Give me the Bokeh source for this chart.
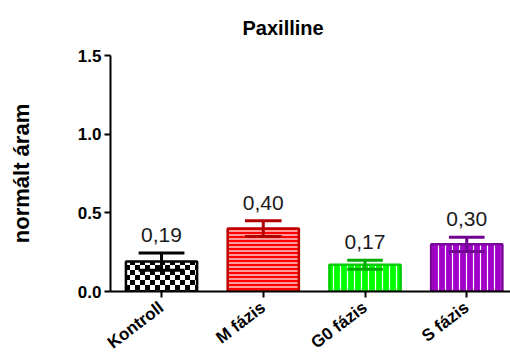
import base64
import math
from bokeh.plotting import figure
from bokeh.models import Range1d, FixedTicker, ImageURLTexture
from bokeh.core.properties import value
from bokeh.embed import file_html
from bokeh.resources import INLINE

# ---- data ----
categories = ["Kontroll", "M fázis", "G0 fázis", "S fázis"]
means = [0.19, 0.40, 0.17, 0.30]
errors = [0.055, 0.05, 0.028, 0.045]
value_labels = ["0,19", "0,40", "0,17", "0,30"]
y_ticks = [0.0, 0.5, 1.0, 1.5]
y_tick_labels = ["0.0", "0.5", "1.0", "1.5"]
title_text = "Paxilline"

# ---- styles ----
fill_colors = ["white", "#ff0000", "#00ff00", "#a000c8"]
line_colors = ["black", "#c00000", "#00cc00", "#7a009a"]
err_colors = ["black", "#b00000", "#00a800", "#70008f"]
hatches = ["checker", "horizontal_line", "vertical_line", "vertical_line"]
hatch_colors = ["black", "white", "white", "white"]
hatch_scales = [10, 4, 7, 7]
cap_widths = [0.45, 0.36, 0.35, 0.35]

FONT = "Liberation Sans"

svg = ('<svg xmlns="http://www.w3.org/2000/svg" width="10" height="10">'
       '<rect width="10" height="10" fill="white"/>'
       '<rect width="5" height="5" fill="black"/>'
       '<rect x="5" y="5" width="5" height="5" fill="black"/></svg>')
checker_url = "data:image/svg+xml;base64," + base64.b64encode(svg.encode()).decode()

p = figure(width=510, height=364, output_backend="svg", toolbar_location=None,
           x_range=Range1d(-0.5015, 3.43), y_range=Range1d(0, 1.5),
           min_border_left=110, min_border_right=0, min_border_top=55,
           min_border_bottom=73)
p.outline_line_color = None
p.grid.visible = False
p.background_fill_color = "white"

p.title.text = title_text
p.title.text_font = FONT
p.title.text_font_style = "bold"
p.title.text_font_size = "20px"
p.title.text_color = "black"
p.title.align = "left"
p.title.offset = 132
p.title.standoff = 30
p.title.vertical_align = "top"

xs = list(range(len(categories)))
for i in xs:
    kw = {}
    if hatches[i] == "checker":
        kw["hatch_extra"] = {"checker": ImageURLTexture(url=checker_url, repetition="repeat")}
        kw["hatch_pattern"] = value("checker")
    else:
        kw["hatch_pattern"] = value(hatches[i])
        kw["hatch_color"] = hatch_colors[i]
        kw["hatch_scale"] = hatch_scales[i]
        kw["hatch_weight"] = 1.2
    p.vbar(x=[xs[i]], top=[means[i]], bottom=0, width=0.7,
           fill_color=fill_colors[i], line_color=line_colors[i], line_width=2.5, **kw)
    lo = means[i] - errors[i]
    hi = means[i] + errors[i]
    p.segment(x0=[xs[i]], y0=[lo], x1=[xs[i]], y1=[hi], line_color=err_colors[i], line_width=3)
    hw = cap_widths[i] / 2
    p.segment(x0=[xs[i] - hw, xs[i] - hw], y0=[lo, hi], x1=[xs[i] + hw, xs[i] + hw], y1=[lo, hi],
              line_color=err_colors[i], line_width=3)

p.text(x=xs, y=[m + e for m, e in zip(means, errors)], text=value_labels,
       text_align="center", text_baseline="bottom", y_offset=-11,
       text_font=value(FONT), text_font_size="21px", text_color="#1a1a1a")

# axes
for ax in (p.xaxis[0], p.yaxis[0]):
    ax.axis_line_width = 2
    ax.major_tick_line_width = 2
    ax.major_tick_out = 6
    ax.major_tick_in = 0
    ax.minor_tick_line_color = None
    ax.major_label_text_font = FONT
    ax.major_label_text_font_style = "bold"
    ax.major_label_text_color = "black"

p.yaxis.ticker = FixedTicker(ticks=y_ticks)
p.yaxis.major_label_overrides = {t: l for t, l in zip(y_ticks, y_tick_labels)}
p.yaxis.major_label_text_font_size = "17px"
p.yaxis.major_label_standoff = 3
p.yaxis.axis_label = "normált áram"
p.yaxis.axis_label_text_font = FONT
p.yaxis.axis_label_text_font_style = "bold"
p.yaxis.axis_label_text_font_size = "22px"
p.yaxis.axis_label_text_color = "black"
p.yaxis.axis_label_standoff = 41

p.xaxis.ticker = FixedTicker(ticks=xs)
p.xaxis.major_label_overrides = {x: c for x, c in zip(xs, categories)}
p.xaxis.major_label_orientation = 0.65
p.xaxis.major_label_text_font_size = "17px"
p.xaxis.major_label_standoff = 8

open("out.html", "w").write(file_html(p, INLINE))
